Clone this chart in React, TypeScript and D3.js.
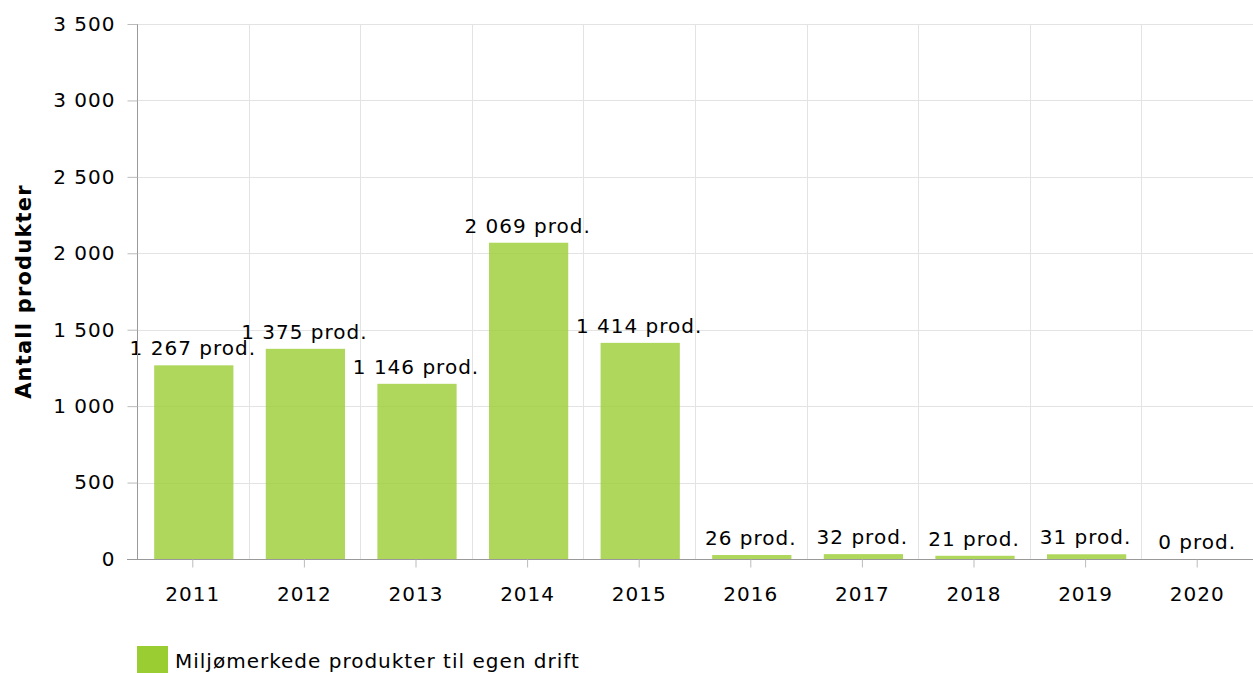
import React, { useEffect, useRef } from "react";
import * as d3 from "d3";

// chart data
const years = ["2011", "2012", "2013", "2014", "2015", "2016", "2017", "2018", "2019", "2020"];
const products = [1267, 1375, 1146, 2069, 1414, 26, 32, 21, 31, 0];
const yTicks = [0, 500, 1000, 1500, 2000, 2500, 3000, 3500];
const seriesName = "Miljømerkede produkter til egen drift";
const yTitle = "Antall produkter";

const W = 1253;
const H = 673;
const margin = { top: 24, right: 0, bottom: 114, left: 137 };
const FONT = "'DejaVu Sans', Verdana, sans-serif";
const FS = 20;
const LS = 1;

// Norwegian thousand separator (space)
const fmt = (v: number) => d3.format(",")(v).replace(/,/g, " ");

export default function App() {
  const svgRef = useRef<SVGSVGElement>(null);

  useEffect(() => {
    const svg = d3.select(svgRef.current);
    svg.selectAll("*").remove();

    const plotW = W - margin.left - margin.right;
    const plotH = H - margin.top - margin.bottom;

    const x = d3.scaleBand().domain(years).range([0, plotW]).padding(0);
    const y = d3.scaleLinear().domain([0, 3500]).range([plotH, 0]);
    const barW = x.bandwidth() * 0.71;

    const g = svg.append("g").attr("transform", `translate(${margin.left},${margin.top})`);

    // horizontal grid
    g.append("g")
      .selectAll("line")
      .data(yTicks)
      .join("line")
      .attr("x1", 0)
      .attr("x2", plotW)
      .attr("y1", (d) => Math.round(y(d)) + 0.5)
      .attr("y2", (d) => Math.round(y(d)) + 0.5)
      .attr("stroke", "#e3e3e3");

    // vertical grid at category boundaries
    g.append("g")
      .selectAll("line")
      .data(years.slice(1).map((d) => x(d) as number).concat([plotW - 0.5]))
      .join("line")
      .attr("x1", (d) => Math.round(d) + 0.5)
      .attr("x2", (d) => Math.round(d) + 0.5)
      .attr("y1", 0)
      .attr("y2", plotH)
      .attr("stroke", "#e3e3e3");

    // bars
    g.append("g")
      .selectAll("rect")
      .data(products)
      .join("rect")
      .attr("x", (d, i) => (x(years[i]) as number) + (x.bandwidth() - barW) / 2 + 1)
      .attr("width", barW)
      .attr("y", (d) => y(d))
      .attr("height", (d) => plotH - y(d))
      .attr("fill", "#9acd32")
      .attr("fill-opacity", 0.8);

    // value labels
    g.append("g")
      .selectAll("text")
      .data(products)
      .join("text")
      .attr("x", (d, i) => (x(years[i]) as number) + x.bandwidth() / 2)
      .attr("y", (d) => y(d) - 10)
      .attr("text-anchor", "middle")
      .attr("font-family", FONT)
      .attr("font-size", FS)
      .attr("letter-spacing", LS)
      .attr("fill", "#000")
      .text((d) => `${fmt(d)} prod.`);

    // y axis
    const yAxis = d3
      .axisLeft(y)
      .tickValues(yTicks)
      .tickSize(10)
      .tickPadding(12)
      .tickFormat((d) => fmt(d as number));
    const ya = g.append("g").attr("transform", "translate(0.5,0)").call(yAxis);
    ya.select(".domain").attr("stroke", "#999").attr("d", `M0,0V${plotH}`);
    ya.selectAll(".tick line").attr("stroke", "#bbb");
    ya.selectAll("text")
      .attr("font-family", FONT)
      .attr("font-size", FS)
      .attr("letter-spacing", LS)
      .attr("fill", "#000");

    // x axis
    const xAxis = d3.axisBottom(x).tickSize(8).tickPadding(19);
    const xa = g.append("g").attr("transform", `translate(0,${plotH + 0.5})`).call(xAxis);
    xa.select(".domain").attr("stroke", "#999").attr("d", `M-10,0H${plotW}`);
    xa.selectAll(".tick line").attr("stroke", "#bbb");
    xa.selectAll("text")
      .attr("font-family", FONT)
      .attr("font-size", FS)
      .attr("letter-spacing", LS)
      .attr("fill", "#000");

    // y title
    svg
      .append("text")
      .attr("transform", `translate(31,${margin.top + plotH / 2}) rotate(-90)`)
      .attr("text-anchor", "middle")
      .attr("font-family", FONT)
      .attr("font-size", 21)
      .attr("letter-spacing", 1.2)
      .attr("font-weight", "bold")
      .text(yTitle);

    // legend
    const lg = svg.append("g").attr("transform", `translate(${margin.left},646)`);
    lg.append("rect").attr("width", 31).attr("height", 27).attr("fill", "#9acd32");
    lg.append("text")
      .attr("x", 38)
      .attr("y", 22)
      .attr("font-family", FONT)
      .attr("font-size", FS)
      .attr("letter-spacing", LS)
      .attr("fill", "#000")
      .text(seriesName);
  }, []);

  return (
    <svg
      ref={svgRef}
      width={W}
      height={H}
      style={{ position: "absolute", left: 0, top: 0, background: "#fff" }}
    />
  );
}
